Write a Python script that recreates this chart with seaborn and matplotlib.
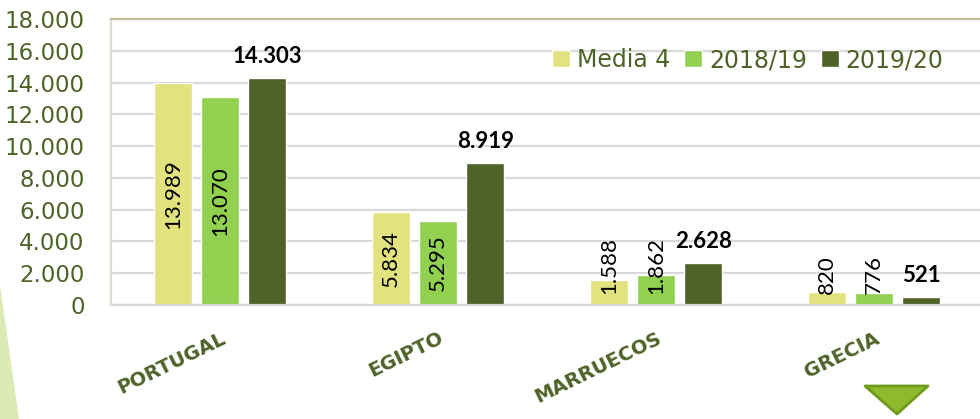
import matplotlib
matplotlib.use("Agg")
import matplotlib.pyplot as plt
import seaborn as sns
import pandas as pd
from matplotlib.patches import Polygon

countries = ["PORTUGAL", "EGIPTO", "MARRUECOS", "GRECIA"]
series = ["Media 4", "2018/19", "2019/20"]
media4 = [13989, 5834, 1588, 820]
y1819 = [13070, 5295, 1862, 776]
y1920 = [14303, 8919, 2628, 521]
yticks = [0, 2000, 4000, 6000, 8000, 10000, 12000, 14000, 16000, 18000]
colors = ["#E2E37E", "#92D050", "#4F6228"]
green_txt = "#4F6228"

rows = []
for s, vals in zip(series, [media4, y1819, y1920]):
    for c, v in zip(countries, vals):
        rows.append({"country": c, "serie": s, "value": v})
df = pd.DataFrame(rows)

def fmt(v):
    return f"{v:,}".replace(",", ".")

sns.set_style("white")
fig = plt.figure(figsize=(9.8, 4.19), dpi=100)
ax = fig.add_axes([111/980, 1-305/419, 872/980, (305-19)/419])

sns.barplot(data=df, x="country", y="value", hue="serie", hue_order=series,
            order=countries, palette=colors, width=0.65, gap=0.2,
            saturation=1, ax=ax, legend=True)

ax.set_xlim(-0.5, 3.5)
ax.set_ylim(0, 18000)
ax.set_yticks(yticks)
ax.set_yticklabels([fmt(t) for t in yticks], fontsize=16.5, color=green_txt,
                   family="DejaVu Sans")
ax.tick_params(axis="y", length=0, pad=19)
ax.tick_params(axis="x", length=0, pad=17)
ax.set_xticks(range(len(countries)))
ax.set_xticklabels(countries, rotation=26, ha="right", va="top",
                   rotation_mode="anchor", fontsize=14, fontweight="bold",
                   color=green_txt, family="DejaVu Sans")
ax.set_xlabel("")
ax.set_ylabel("")
ax.grid(axis="y", color="#D9D9D9", linewidth=1.6)
ax.set_axisbelow(True)
ax.spines["top"].set_color("#C4BD97")
ax.spines["top"].set_linewidth(1.6)
ax.spines["left"].set_color("#DDD9C4")
ax.spines["left"].set_linewidth(1.6)
ax.spines["bottom"].set_color("#D9D9D9")
ax.spines["bottom"].set_linewidth(1.6)
ax.spines["right"].set_visible(False)

# data labels
for i, cont in enumerate(ax.containers):
    for bar in cont:
        h = bar.get_height()
        xc = bar.get_x() + bar.get_width() / 2
        if i < 2:
            if h > 4000:
                ax.text(xc, h / 2, fmt(int(round(h))), rotation=90, ha="center",
                        va="center", fontsize=16, family="Lato", color="black")
            else:
                ax.text(xc, 700, fmt(int(round(h))), rotation=90, ha="center",
                        va="bottom", fontsize=16, family="Lato", color="black")
        else:
            ax.annotate(fmt(int(round(h))), (xc, h), xytext=(0, 8),
                        textcoords="offset points", ha="center", va="bottom",
                        fontsize=16, fontweight="bold", family="Lato",
                        color="black")

handles, labels = ax.get_legend_handles_labels()
ax.legend(handles, labels, loc="center left",
          bbox_to_anchor=(540/980, 1-60/419), bbox_transform=fig.transFigure,
          ncol=3, frameon=False, handlelength=0.75, handleheight=0.75,
          handletextpad=0.3, columnspacing=0.6, borderpad=0,
          prop={"family": "DejaVu Sans", "size": 17}, labelcolor=green_txt)

# decorations
W, H = 980, 419
fig.patches.append(Polygon([(0/W, 1-285/H), (0, 0), (19/W, 0)], closed=True,
                           transform=fig.transFigure, facecolor="#DCEBB5",
                           edgecolor="none", zorder=0))
fig.patches.append(Polygon([(865/W, 1-386/H), (928/W, 1-386/H), (897/W, 1-414/H)],
                           closed=True, transform=fig.transFigure,
                           facecolor="#8DBB2B", edgecolor="#6E9A1F",
                           linewidth=2, joinstyle="round", zorder=3))

fig.savefig("out.png", dpi=100)
